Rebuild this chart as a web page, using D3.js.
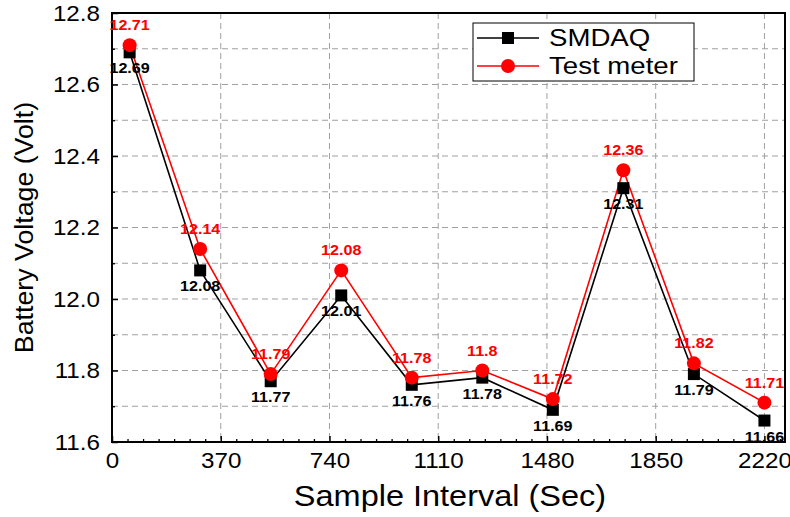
<!DOCTYPE html>
<html>
<head>
<meta charset="utf-8">
<script src="https://cdn.jsdelivr.net/npm/d3@7"></script>
<style>
  body { margin: 0; background: #fff; }
  text { font-family: Arial, "Liberation Sans", sans-serif; }
</style>
</head>
<body>
<div id="chart"></div>
<script>
const sampleTimes = [60, 300, 540, 780, 1020, 1260, 1500, 1740, 1980, 2220];
const smdaq = [12.69, 12.08, 11.77, 12.01, 11.76, 11.78, 11.69, 12.31, 11.79, 11.66];
const testMeter = [12.71, 12.14, 11.79, 12.08, 11.78, 11.8, 11.72, 12.36, 11.82, 11.71];
const xTicks = [0, 370, 740, 1110, 1480, 1850, 2220];
const yTicks = [11.6, 11.8, 12.0, 12.2, 12.4, 12.6, 12.8];

const width = 790;
const height = 517;
const margin = { top: 13, right: 5, bottom: 75, left: 112 };

const x = d3.scaleLinear()
    .domain([0, 2290])
    .range([margin.left, width - margin.right]);

const y = d3.scaleLinear()
    .domain([11.6, 12.8])
    .range([height - margin.bottom, margin.top]);

const svg = d3.select('#chart')
    .append('svg')
    .attr('width', width)
    .attr('height', height);

// the text in the picture is a bit wider than plain Arial
function widen(sel, k) {
    sel.each(function() {
        const len = this.getComputedTextLength();
        d3.select(this)
            .attr('textLength', len * k)
            .attr('lengthAdjust', 'spacingAndGlyphs');
    });
}

// grid
const yGrid = d3.range(11.7, 12.75, 0.1);
svg.append('g')
    .selectAll('line')
    .data(yGrid)
    .join('line')
    .attr('x1', margin.left)
    .attr('x2', width - margin.right)
    .attr('y1', d => y(d))
    .attr('y2', d => y(d))
    .attr('stroke', '#a0a0a0')
    .attr('stroke-width', 1)
    .attr('stroke-dasharray', '6,4');

svg.append('g')
    .selectAll('line')
    .data(xTicks.slice(1))
    .join('line')
    .attr('x1', d => x(d))
    .attr('x2', d => x(d))
    .attr('y1', margin.top)
    .attr('y2', height - margin.bottom)
    .attr('stroke', '#a0a0a0')
    .attr('stroke-width', 1)
    .attr('stroke-dasharray', '6,4');

// x axis
const xMinor = d3.range(0, 2290, 370 / 7).filter(v => Math.abs(v / 370 - Math.round(v / 370)) > 0.01);
svg.append('g')
    .attr('transform', `translate(0, ${height - margin.bottom})`)
    .call(d3.axisBottom(x).tickValues(xMinor).tickSize(-3).tickFormat(''))
    .call(g => g.select('.domain').remove())
    .selectAll('line').attr('stroke-width', 1.3);

svg.append('g')
    .attr('transform', `translate(0, ${height - margin.bottom})`)
    .call(d3.axisBottom(x).tickValues(xTicks).tickSize(-6).tickPadding(10).tickFormat(d3.format('d')))
    .call(g => g.select('.domain').remove())
    .call(g => g.selectAll('line').attr('stroke-width', 1.5))
    .call(g => g.selectAll('text').attr('font-size', '22px').attr('fill', '#000').call(widen, 1.1));

// y axis
svg.append('g')
    .attr('transform', `translate(${margin.left}, 0)`)
    .call(d3.axisLeft(y).tickValues(d3.range(11.7, 12.75, 0.2)).tickSize(-3).tickFormat(''))
    .call(g => g.select('.domain').remove())
    .selectAll('line').attr('stroke-width', 1.3);

svg.append('g')
    .attr('transform', `translate(${margin.left}, 0)`)
    .call(d3.axisLeft(y).tickValues(yTicks).tickSize(-6).tickPadding(12).tickFormat(d3.format('.1f')))
    .call(g => g.select('.domain').remove())
    .call(g => g.selectAll('line').attr('stroke-width', 1.5))
    .call(g => g.selectAll('text').attr('font-size', '22px').attr('fill', '#000').call(widen, 1.1));

// frame
svg.append('rect')
    .attr('x', margin.left)
    .attr('y', margin.top)
    .attr('width', width - margin.right - margin.left)
    .attr('height', height - margin.bottom - margin.top)
    .attr('fill', 'none')
    .attr('stroke', '#000')
    .attr('stroke-width', 2);

// axis titles
svg.append('text')
    .attr('x', 450)
    .attr('y', 506)
    .attr('text-anchor', 'middle')
    .attr('font-size', '29px')
    .text('Sample Interval (Sec)')
    .call(widen, 1.12);

svg.append('text')
    .attr('transform', `translate(33, ${(margin.top + height - margin.bottom) / 2}) rotate(-90)`)
    .attr('text-anchor', 'middle')
    .attr('font-size', '25px')
    .text('Battery Voltage (Volt)')
    .call(widen, 1.07);

// lines
const line = vals => d3.line()
    .x((d, i) => x(sampleTimes[i]))
    .y(d => y(d))(vals);

svg.append('path')
    .attr('d', line(smdaq))
    .attr('fill', 'none')
    .attr('stroke', '#000')
    .attr('stroke-width', 1.6);

svg.append('path')
    .attr('d', line(testMeter))
    .attr('fill', 'none')
    .attr('stroke', '#ff0000')
    .attr('stroke-width', 1.6);

svg.append('g')
    .selectAll('rect')
    .data(smdaq)
    .join('rect')
    .attr('x', (d, i) => x(sampleTimes[i]) - 6)
    .attr('y', d => y(d) - 6)
    .attr('width', 12)
    .attr('height', 12)
    .attr('fill', '#000');

svg.append('g')
    .selectAll('circle')
    .data(testMeter)
    .join('circle')
    .attr('cx', (d, i) => x(sampleTimes[i]))
    .attr('cy', d => y(d))
    .attr('r', 7)
    .attr('fill', '#ff0000');

// data labels
svg.append('g')
    .selectAll('text')
    .data(smdaq)
    .join('text')
    .attr('x', (d, i) => x(sampleTimes[i]))
    .attr('y', d => y(d) + 21)
    .attr('text-anchor', 'middle')
    .attr('font-size', '14px')
    .attr('font-weight', 'bold')
    .attr('fill', '#000')
    .text(d => d)
    .call(widen, 1.15);

svg.append('g')
    .selectAll('text')
    .data(testMeter)
    .join('text')
    .attr('x', (d, i) => x(sampleTimes[i]))
    .attr('y', d => y(d) - 15)
    .attr('text-anchor', 'middle')
    .attr('font-size', '14px')
    .attr('font-weight', 'bold')
    .attr('fill', '#ff0000')
    .text(d => d)
    .call(widen, 1.15);

// legend
const legend = svg.append('g').attr('transform', 'translate(473, 23)');
legend.append('rect')
    .attr('width', 221)
    .attr('height', 58)
    .attr('fill', '#fff')
    .attr('stroke', '#000')
    .attr('stroke-width', 1);

const entries = [
    { label: 'SMDAQ', color: '#000', shape: 'square' },
    { label: 'Test meter', color: '#ff0000', shape: 'circle' }
];

const entry = legend.selectAll('g')
    .data(entries)
    .join('g')
    .attr('transform', (d, i) => `translate(0, ${15 + i * 28})`);

entry.append('line')
    .attr('x1', 4)
    .attr('x2', 66)
    .attr('stroke', d => d.color)
    .attr('stroke-width', 1.5);

entry.filter(d => d.shape === 'square')
    .append('rect')
    .attr('x', 29).attr('y', -6).attr('width', 12).attr('height', 12)
    .attr('fill', '#000');

entry.filter(d => d.shape === 'circle')
    .append('circle')
    .attr('cx', 35).attr('r', 7)
    .attr('fill', '#ff0000');

entry.append('text')
    .attr('x', 76)
    .attr('y', 8)
    .attr('font-size', '23px')
    .attr('fill', '#000')
    .text(d => d.label)
    .call(widen, 1.2);
</script>
</body>
</html>
